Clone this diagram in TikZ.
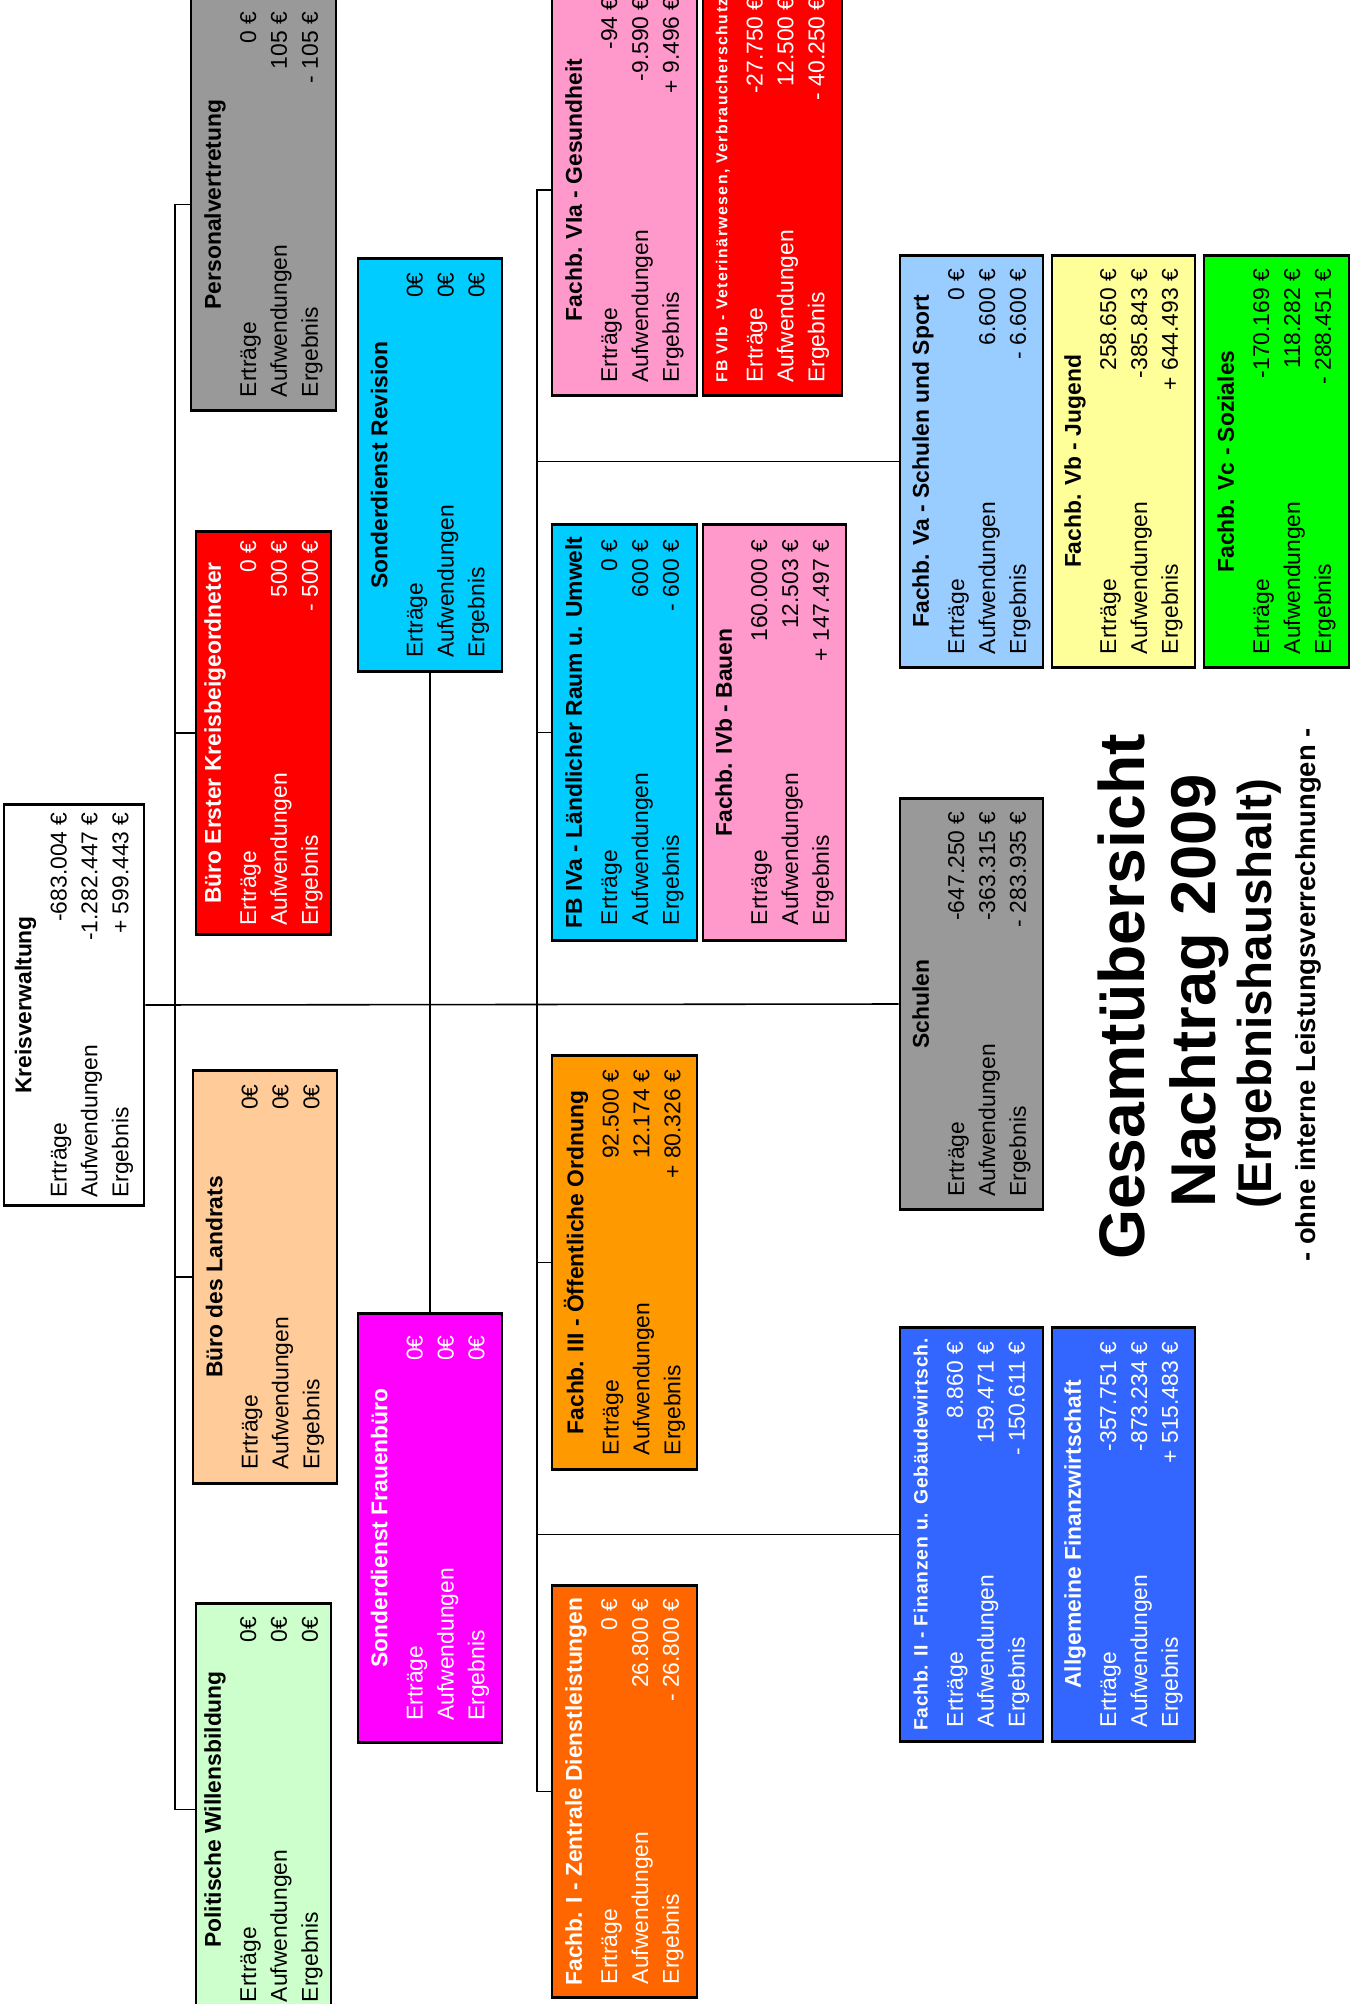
\documentclass[tikz,border=0pt]{standalone}
\usepackage{fontspec}
\setmainfont{Liberation Sans}
\usepackage{tikz}

\definecolor{grau}{HTML}{999999}
\definecolor{cyanb}{HTML}{00CCFF}
\definecolor{rot}{HTML}{FF0000}
\definecolor{pfirsich}{HTML}{FFCC99}
\definecolor{hellgruen}{HTML}{CCFFCC}
\definecolor{magentab}{HTML}{FF00FF}
\definecolor{rosa}{HTML}{FF99CC}
\definecolor{orangeb}{HTML}{FF9900}
\definecolor{orangerot}{HTML}{FF6600}
\definecolor{hellblau}{HTML}{99CCFF}
\definecolor{gelb}{HTML}{FFFF99}
\definecolor{gruen}{HTML}{00FF00}
\definecolor{blau}{HTML}{3366FF}

% Titel + Ertraege / Aufwendungen / Ergebnis
\newcommand{\werte}[4]{\parbox{3.85cm}{\makebox[\linewidth][c]{\bfseries #1}\par\vspace{1.2pt}Erträge\hfill #2\par Aufwendungen\hfill #3\par Ergebnis\hfill #4}}

\begin{document}
\begin{tikzpicture}[x=0.01cm, y=-0.01cm, line width=0.45pt,
	amt/.style={draw, line width=0.8pt, rotate=90, minimum width=4.11cm, minimum height=1.45cm, inner sep=0pt, font=\fontsize{6.5}{8.8}\selectfont},
	weiss/.style={text=white}]
		\useasboundingbox (0,0) rectangle (1355,2004);
		\clip (0,0) rectangle (1355,2004);
		% Verwaltungsspitze
		\node[amt, fill=white, minimum width=4cm, minimum height=1.4cm] (kv) at (74,1005) {\werte{Kreisverwaltung}{-683.004 €}{-1.282.447 €}{+ 599.443 €}};
		% Stabsstellen
		\node[amt, fill=grau] (pv) at (263.5,204.5) {\werte{Personalvertretung}{0 €}{105 €}{- 105 €}};
		\node[amt, fill=rot, weiss, minimum width=4.02cm, minimum height=1.35cm] (bek) at (263.5,733) {\werte{Büro Erster Kreisbeigeordneter}{0 €}{500 €}{- 500 €}};
		\node[amt, fill=pfirsich, minimum width=4.12cm, minimum height=1.44cm] (bl) at (265,1277) {\werte{Büro des Landrats}{0€}{0€}{0€}};
		\node[amt, fill=hellgruen, minimum height=1.35cm] (pw) at (263.5,1809.5) {\werte{Politische Willensbildung}{0€}{0€}{0€}};
		\node[amt, fill=cyanb, minimum width=4.12cm, minimum height=1.44cm] (sr) at (430,465) {\werte{Sonderdienst Revision}{0€}{0€}{0€}};
		\node[amt, fill=magentab, weiss, minimum width=4.28cm, minimum height=1.44cm] (sf) at (430,1528) {\werte{Sonderdienst Frauenbüro}{0€}{0€}{0€}};
		% Fachbereiche
		\node[amt, fill=rosa] (via) at (624.5,190) {\werte{Fachb. VIa - Gesundheit}{-94 €}{-9.590 €}{+ 9.496 €}};
		\node[amt, fill=rot, weiss, minimum height=1.39cm] (vib) at (772.5,190) {\werte{\makebox[\linewidth][l]{\fontsize{4.5}{8.8}\selectfont\addfontfeatures{LetterSpace=9}FB VIb - Veterinärwesen, Verbraucherschutz}}{-27.750 €}{12.500 €}{- 40.250 €}};
		\node[amt, fill=cyanb, minimum width=4.15cm] (iva) at (624.5,732.5) {\werte{FB IVa - Ländlicher Raum u. Umwelt}{0 €}{600 €}{- 600 €}};
		\node[amt, fill=rosa, minimum width=4.15cm, minimum height=1.43cm] (ivb) at (774.5,732.5) {\werte{Fachb. IVb - Bauen}{160.000 €}{12.503 €}{+ 147.497 €}};
		\node[amt, fill=orangeb, minimum width=4.13cm] (fb3) at (624.5,1262.5) {\werte{Fachb. III - Öffentliche Ordnung}{92.500 €}{12.174 €}{+ 80.326 €}};
		\node[amt, fill=orangerot, weiss] (fb1) at (624.5,1791.5) {\werte{Fachb. I - Zentrale Dienstleistungen}{0 €}{26.800 €}{- 26.800 €}};
		\node[amt, fill=hellblau, minimum height=1.43cm] (va) at (971.5,461.5) {\werte{Fachb. Va - Schulen und Sport}{0 €}{6.600 €}{- 6.600 €}};
		\node[amt, fill=gelb, minimum height=1.43cm] (vb) at (1123.5,461.5) {\werte{Fachb. Vb - Jugend}{258.650 €}{-385.843 €}{+ 644.493 €}};
		\node[amt, fill=gruen] (vc) at (1276.5,461.5) {\werte{Fachb. Vc - Soziales}{-170.169 €}{118.282 €}{- 288.451 €}};
		\node[amt, fill=grau, minimum width=4.1cm, minimum height=1.43cm] (schulen) at (971.5,1004) {\werte{Schulen}{-647.250 €}{-363.315 €}{- 283.935 €}};
		\node[amt, fill=blau, weiss, minimum width=4.13cm, minimum height=1.43cm] (fb2) at (971.5,1534.5) {\werte{\fontsize{5.5}{8.8}\selectfont\addfontfeatures{LetterSpace=4}Fachb. II - Finanzen u. Gebäudewirtsch.}{8.860 €}{159.471 €}{- 150.611 €}};
		\node[amt, fill=blau, weiss, minimum width=4.13cm, minimum height=1.43cm] (afw) at (1123.5,1534.5) {\werte{Allgemeine Finanzwirtschaft}{-357.751 €}{-873.234 €}{+ 515.483 €}};
		% Linien
		\coordinate (ast1) at (175,1005);
		\coordinate (ast2) at (537,1005);
		\draw (kv.south) -- (schulen.north);
		\draw (pv.north) -| (ast1) |- (pw.north);
		\draw (bek.north) -- (bek.north -| ast1);
		\draw (bl.north) -- (bl.north -| ast1);
		\draw (sr.west) -- (sf.east);
		\draw (via.north) -| (ast2) |- (fb1.north);
		\draw (iva.north) -- (iva.north -| ast2);
		\draw (fb3.north) -- (fb3.north -| ast2);
		\draw (va.north) -- (va.north -| ast2);
		\draw (fb2.north) -- (fb2.north -| ast2);
		% Ueberschrift
		\node[rotate=90, font=\fontsize{18.3}{20}\selectfont\bfseries] (titel) at (1121,997) {Gesamtübersicht};
		\node[rotate=90, font=\fontsize{18}{20}\selectfont\bfseries] (nachtrag) at (1199,991) {Nachtrag 2009};
		\node[rotate=90, font=\fontsize{13.5}{15}\selectfont\bfseries] (haushalt) at (1259,994) {(Ergebnishaushalt)};
		\node[rotate=90, font=\fontsize{7.8}{9}\selectfont\bfseries] (hinweis) at (1308,995) {- ohne interne Leistungsverrechnungen -};
	\end{tikzpicture}
\end{document}
